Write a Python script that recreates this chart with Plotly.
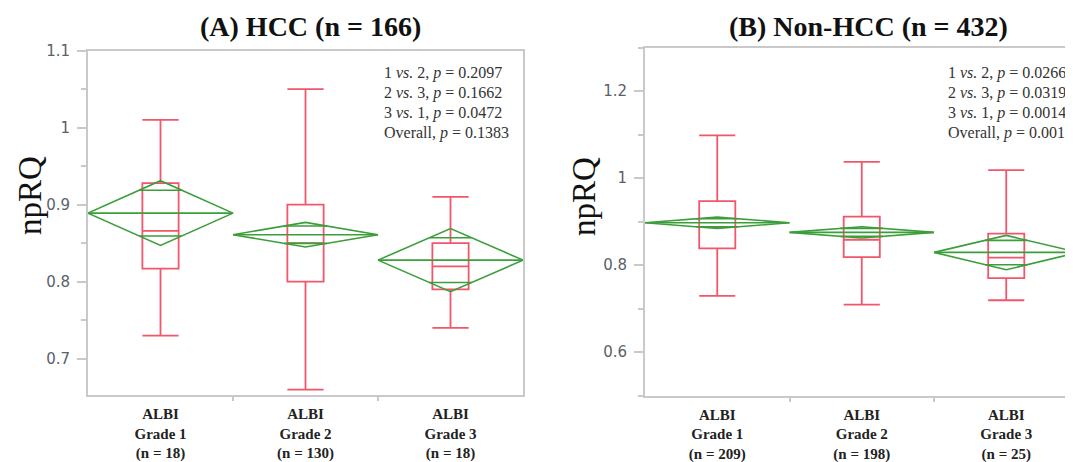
import math
import plotly.graph_objects as go

# ---------------- data ----------------
categories = [0, 1, 2]
hcc_labels = ["ALBI<br>Grade 1<br>(n = 18)", "ALBI<br>Grade 2<br>(n = 130)", "ALBI<br>Grade 3<br>(n = 18)"]
non_labels = ["ALBI<br>Grade 1<br>(n = 209)", "ALBI<br>Grade 2<br>(n = 198)", "ALBI<br>Grade 3<br>(n = 25)"]

hcc_low = [0.73, 0.66, 0.74]
hcc_q1 = [0.817, 0.80, 0.790]
hcc_med = [0.866, 0.850, 0.820]
hcc_q3 = [0.928, 0.900, 0.850]
hcc_high = [1.01, 1.05, 0.91]
hcc_mean = [0.889, 0.861, 0.828]
hcc_ci_lo = [0.847, 0.845, 0.787]
hcc_ci_hi = [0.931, 0.877, 0.869]

non_low = [0.729, 0.709, 0.719]
non_q1 = [0.838, 0.818, 0.770]
non_med = [0.887, 0.858, 0.817]
non_q3 = [0.947, 0.911, 0.872]
non_high = [1.098, 1.037, 1.018]
non_mean = [0.897, 0.875, 0.829]
non_ci_lo = [0.884, 0.862, 0.789]
non_ci_hi = [0.910, 0.888, 0.868]

comparisons = ["1 <i>vs.</i> 2", "2 <i>vs.</i> 3", "3 <i>vs.</i> 1", "Overall"]
hcc_p = ["0.2097", "0.1662", "0.0472", "0.1383"]
non_p = ["0.0266", "0.0319", "0.0014", "0.0019"]

titles = ["(A) HCC (n = 166)", "(B) Non-HCC (n = 432)"]
hcc_yticks = [0.7, 0.8, 0.9, 1.0, 1.1]
hcc_yticktext = ["0.7", "0.8", "0.9", "1", "1.1"]
non_yticks = [0.6, 0.8, 1.0, 1.2]
non_yticktext = ["0.6", "0.8", "1", "1.2"]

RED = "#f2566b"
GREEN = "#3a9e3a"
AXIS = "#c9c9c9"
SERIF = "Liberation Serif"

# the page body has an 8px margin; size the figure to fill the rest of the window
OFF = 8
W, H = 1073 - OFF, 462 - OFF


def px(x):
    return (x - OFF) / W


def py(y):
    return 1 - (y - OFF) / H


fig = go.Figure()


def add_panel(xa, ya, low, q1, med, q3, high, mean, lo, hi):
    fig.add_trace(go.Box(
        x=categories, q1=q1, median=med, q3=q3, lowerfence=low, upperfence=high,
        width=0.25, whiskerwidth=1, boxpoints=False,
        line=dict(color=RED, width=1.8), fillcolor="rgba(0,0,0,0)",
        xaxis=xa, yaxis=ya, showlegend=False, hoverinfo="skip"))
    xs, ys = [], []
    for c, m, l, h in zip(categories, mean, lo, hi):
        # diamond
        xs += [c - 0.5, c, c + 0.5, c, c - 0.5, None]
        ys += [m, h, m, l, m, None]
        # mean line
        xs += [c - 0.5, c + 0.5, None]
        ys += [m, m, None]
        # overlap marks
        k = 1 / math.sqrt(2)
        w = 0.5 * (1 - k)
        xs += [c - w, c + w, None, c - w, c + w, None]
        ys += [m + (h - m) * k, m + (h - m) * k, None, m - (m - l) * k, m - (m - l) * k, None]
    fig.add_trace(go.Scatter(
        x=xs, y=ys, mode="lines", line=dict(color=GREEN, width=1.6),
        xaxis=xa, yaxis=ya, showlegend=False, hoverinfo="skip"))


add_panel("x", "y", hcc_low, hcc_q1, hcc_med, hcc_q3, hcc_high, hcc_mean, hcc_ci_lo, hcc_ci_hi)
add_panel("x2", "y2", non_low, non_q1, non_med, non_q3, non_high, non_mean, non_ci_lo, non_ci_hi)


def xaxis_style(domain, rng, labels):
    return dict(
        domain=domain, range=rng, showline=True, linecolor=AXIS, linewidth=2, mirror=True,
        showgrid=False, zeroline=False, automargin=False,
        tickmode="array", tickvals=categories,
        ticktext=["<b>" + t.replace("<br>", "</b><br><b>") + "</b>" for t in labels],
        ticks="", ticklabelstandoff=4, tickfont=dict(family=SERIF, size=15, color="#222"),
        minor=dict(tickvals=[0.5, 1.5], ticks="outside", ticklen=4, tickcolor=AXIS, tickwidth=1.5),
        fixedrange=True)


def yaxis_style(domain, rng, tv, tt, minor_dt, mirror, anchor):
    return dict(
        domain=domain, range=rng, anchor=anchor, showline=True, linecolor=AXIS, linewidth=2,
        mirror=mirror, showgrid=False, zeroline=False, automargin=False,
        tickmode="array", tickvals=tv, ticktext=tt,
        ticks="outside", ticklen=9, tickcolor=AXIS, tickwidth=1.5,
        ticklabelstandoff=4,
        tickfont=dict(family="DejaVu Sans", size=15, color="#5a5f6a"),
        minor=dict(tick0=0, dtick=minor_dt, ticks="outside", ticklen=5, tickcolor=AXIS, tickwidth=1.5),
        fixedrange=True)


fig.update_layout(
    width=W, height=H, margin=dict(l=0, r=0, t=0, b=0, autoexpand=False),
    paper_bgcolor="white", plot_bgcolor="white",
    xaxis=xaxis_style([px(88), px(523)], [-0.5, 2.5], hcc_labels) | dict(anchor="y"),
    yaxis=yaxis_style([py(395), py(50.5)], [0.653, 1.1], hcc_yticks, hcc_yticktext, 0.05, True, "x"),
    xaxis2=xaxis_style([px(645), 1.0], [-0.5, 2.462], non_labels) | dict(anchor="y2"),
    yaxis2=yaxis_style([py(395.5), py(47.5)], [0.5, 1.3], non_yticks, non_yticktext, 0.1, False, "x2"),
)

annotations = []
# titles
for t, xc in zip(titles, [310, 868]):
    annotations.append(dict(text="<b>" + t + "</b>", x=px(xc), y=py(27), xref="paper", yref="paper",
                            xanchor="center", yanchor="middle", showarrow=False,
                            font=dict(family=SERIF, size=28, color="#111")))
# y titles
for xc in [30, 584]:
    annotations.append(dict(text="npRQ", x=px(xc), y=py(196), xref="paper", yref="paper",
                            xanchor="center", yanchor="middle", textangle=-90, showarrow=False,
                            font=dict(family=SERIF, size=33, color="#111")))
# p-value texts
for (x0, pv) in [(382, hcc_p), (946, non_p)]:
    for i, (c, p) in enumerate(zip(comparisons, pv)):
        annotations.append(dict(text=c + ", <i>p</i> = " + p, x=px(x0), y=py(73 + 20 * i),
                                xref="paper", yref="paper",
                                xanchor="left", yanchor="middle", showarrow=False,
                                font=dict(family=SERIF, size=16, color="#333")))
fig.update_layout(annotations=annotations)

fig.write_html("out.html")
